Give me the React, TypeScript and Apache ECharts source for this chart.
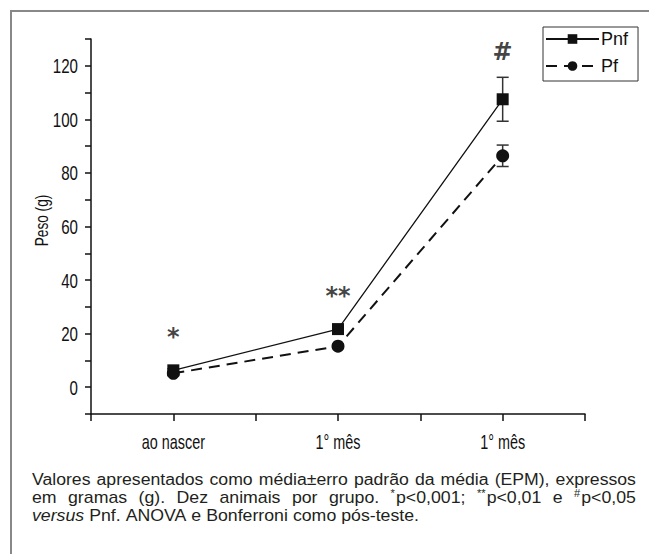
import React, { useEffect, useRef } from 'react';
import * as echarts from 'echarts';

// ---- data ----
const categories = ['ao nascer', '1° mês', '1° mês'];
const pnfMean = [6.3, 21.7, 107.5];
const pnfErr = [0.6, 1.0, 8.2];
const pfMean = [5.2, 15.3, 86.4];
const pfErr = [0.5, 0.8, 4.0];
const sigMarks = ['*', '**', '#'];
const sigHeights = [18.8, 34, 125];
const yMin = -10;
const yMax = 130;
const yStep = 10;
const yLabelStep = 20;
const yName = 'Peso (g)';
const seriesNames = ['Pnf', 'Pf'];

type Seg = { t: string; sup?: boolean; it?: boolean };
const captionLines: { words: Seg[][]; justify: boolean }[] = [
  {
    justify: true,
    words: 'Valores apresentados como média±erro padrão da média (EPM), expressos'
      .split(' ')
      .map((w) => [{ t: w }]),
  },
  {
    justify: true,
    words: [
      ...'em gramas (g). Dez animais por grupo.'.split(' ').map((w) => [{ t: w }]),
      [{ t: '*', sup: true }, { t: 'p<0,001;' }],
      [{ t: '**', sup: true }, { t: 'p<0,01' }],
      [{ t: 'e' }],
      [{ t: '#', sup: true }, { t: 'p<0,05' }],
    ],
  },
  {
    justify: false,
    words: [
      [{ t: 'versus', it: true }],
      ...'Pnf. ANOVA e Bonferroni como pós-teste.'.split(' ').map((w) => [{ t: w }]),
    ],
  },
];

const AX_FONT = '"Liberation Sans", Arial, sans-serif';
const CAP_FONT = '"Liberation Sans", Arial, sans-serif';
const COND = 0.72; // horizontal condensation of the axis texts

const pos = (i: number) => 2 * i + 1;

function buildCaption(): any[] {
  const canvas = document.createElement('canvas');
  const ctx = canvas.getContext('2d')!;
  const left = 32;
  const right = 636;
  const W = right - left;
  const lineY = [480, 498, 516];
  const supGap = 1;
  const fs = 16;
  const supFs = 10;
  const segFont = (s: Seg) => `${s.it ? 'italic ' : ''}${s.sup ? supFs : fs}px ${CAP_FONT}`;
  const segW = (s: Seg) => {
    ctx.font = segFont(s);
    return ctx.measureText(s.t).width + (s.sup ? supGap : 0);
  };
  const wordW = (w: Seg[]) => w.reduce((a, s) => a + segW(s), 0);
  ctx.font = `${fs}px ${CAP_FONT}`;
  const sp = ctx.measureText(' ').width;
  const natural = (words: Seg[][]) => words.reduce((a, w) => a + wordW(w), 0) + sp * (words.length - 1);
  const base = Math.min(1.12, (W * 0.99) / natural(captionLines[0].words));
  const els: any[] = [];
  captionLines.forEach((line, li) => {
    const sc = line.justify ? Math.min(base, (W * 0.985) / natural(line.words)) : base;
    const widths = line.words.map((w) => wordW(w) * sc);
    const total = widths.reduce((a, b) => a + b, 0);
    const gap = line.justify ? (W - total) / (line.words.length - 1) : sp * sc;
    let x = left;
    line.words.forEach((w, wi) => {
      let sx = x;
      w.forEach((s) => {
        els.push({
          type: 'text',
          x: sx,
          y: lineY[li] + (s.sup ? -5 : 0),
          scaleX: sc,
          style: {
            text: s.t,
            font: segFont(s),
            fill: '#231f20',
            textAlign: 'left',
            textVerticalAlign: 'middle',
          },
        });
        sx += segW(s) * sc;
      });
      x += widths[wi] + gap;
    });
  });
  return els;
}

export default function App() {
  const ref = useRef<HTMLDivElement>(null);
  useEffect(() => {
    document.body.style.margin = '0';
    const chart = echarts.init(ref.current!, null, { renderer: 'svg' });
    const errData = (m: number[], e: number[]) => m.map((v, i) => [pos(i), v - e[i], v + e[i]]);
    const errSeries = (name: string, m: number[], e: number[]) => ({
      type: 'custom',
      name: name + '-err',
      z: 1,
      silent: true,
      data: errData(m, e),
      renderItem: (params: any, api: any) => {
        const x = api.value(0);
        const lo = api.coord([x, api.value(1)]);
        const hi = api.coord([x, api.value(2)]);
        const cw = 6;
        const st = { stroke: '#333', lineWidth: 1.5 };
        return {
          type: 'group',
          children: [
            { type: 'line', shape: { x1: lo[0], y1: lo[1], x2: hi[0], y2: hi[1] }, style: st },
            { type: 'line', shape: { x1: lo[0] - cw, y1: lo[1], x2: lo[0] + cw, y2: lo[1] }, style: st },
            { type: 'line', shape: { x1: hi[0] - cw, y1: hi[1], x2: hi[0] + cw, y2: hi[1] }, style: st },
          ],
        };
      },
    });
    const option: any = {
      animation: false,
      backgroundColor: '#fff',
      grid: { left: 91, right: 64, top: 39, bottom: 140, containLabel: false, outerBoundsMode: 'none' },
      legend: {
        data: seriesNames,
        orient: 'vertical',
        left: 543,
        top: 27,
        itemWidth: 53,
        itemHeight: 12,
        itemGap: 9,
        padding: [3, 10, 6, 2],
        borderColor: '#333',
        borderWidth: 1,
        textStyle: { fontFamily: AX_FONT, fontSize: 18, lineHeight: 16, color: '#111', padding: [0, 0, 0, -3] },
        selectedMode: false,
      },
      xAxis: {
        type: 'value',
        min: 0,
        max: 6,
        interval: 1,
        splitLine: { show: false },
        axisLine: { onZero: false, lineStyle: { color: '#111', width: 1.5 } },
        axisTick: { length: 7, lineStyle: { color: '#111', width: 1.5 } },
        axisLabel: { show: false },
      },
      yAxis: {
        type: 'value',
        min: yMin,
        max: yMax,
        interval: yStep,
        splitLine: { show: false },
        axisLine: { lineStyle: { color: '#111', width: 1.5 } },
        axisTick: { length: 6, lineStyle: { color: '#111', width: 1.5 } },
        axisLabel: { show: false },
      },
      series: [
        errSeries('Pnf', pnfMean, pnfErr),
        errSeries('Pf', pfMean, pfErr),
        {
          type: 'line',
          name: seriesNames[0],
          z: 3,
          data: pnfMean.map((v, i) => [pos(i), v]),
          symbol: 'rect',
          symbolSize: 12,
          itemStyle: { color: '#111' },
          lineStyle: { color: '#111', width: 1.3 },
        },
        {
          type: 'line',
          name: seriesNames[1],
          z: 3,
          data: pfMean.map((v, i) => [pos(i), v]),
          symbol: 'circle',
          symbolSize: 13,
          itemStyle: { color: '#111' },
          lineStyle: { color: '#111', width: 2, type: [11, 7] },
        },
        {
          type: 'scatter',
          name: 'sig',
          silent: true,
          symbolSize: 0,
          data: sigHeights.map((h, i) => ({ value: [pos(i), h], label: { formatter: sigMarks[i] } })),
          label: {
            show: true,
            position: 'inside',
            fontFamily: '"DejaVu Sans", sans-serif',
            fontWeight: 'bold',
            fontSize: 24,
            color: '#111',
          },
        },
      ],
    };
    chart.setOption(option);

    // axis texts, placed through the chart's own scales, drawn slightly condensed
    const px = (x: number, y: number) => chart.convertToPixel({ gridIndex: 0 }, [x, y]) as number[];
    const axisTexts: any[] = [];
    const yBottom = px(0, yMin)[1];
    categories.forEach((c, i) => {
      const p = px(pos(i), yMin);
      axisTexts.push({
        type: 'text',
        x: p[0],
        y: yBottom + 28,
        scaleX: COND,
        style: { text: c, font: `20px ${AX_FONT}`, fill: '#111', textAlign: 'center', textVerticalAlign: 'middle' },
      });
    });
    for (let v = yMin; v <= yMax; v += yStep) {
      if (v % yLabelStep !== 0) continue;
      const p = px(0, v);
      axisTexts.push({
        type: 'text',
        x: p[0] - 13,
        y: p[1],
        scaleX: COND,
        style: { text: String(v), font: `21px ${AX_FONT}`, fill: '#111', textAlign: 'right', textVerticalAlign: 'middle' },
      });
    }
    const mid = px(0, (yMin + yMax) / 2);
    axisTexts.push({
      type: 'text',
      x: 42,
      y: mid[1] - 6,
      rotation: Math.PI / 2,
      scaleX: COND + 0.04,
      style: { text: yName, font: `18px ${AX_FONT}`, fill: '#111', textAlign: 'center', textVerticalAlign: 'middle' },
    });

    chart.setOption({
      graphic: [
        { type: 'line', shape: { x1: 11, y1: 10, x2: 11, y2: 554 }, style: { stroke: '#888', lineWidth: 2 } },
        { type: 'line', shape: { x1: 10, y1: 11, x2: 649, y2: 11 }, style: { stroke: '#888', lineWidth: 2 } },
        ...axisTexts,
        ...buildCaption(),
      ],
    });
    return () => chart.dispose();
  }, []);
  return <div ref={ref} style={{ position: 'absolute', left: 0, top: 0, width: 649, height: 554 }} />;
}
